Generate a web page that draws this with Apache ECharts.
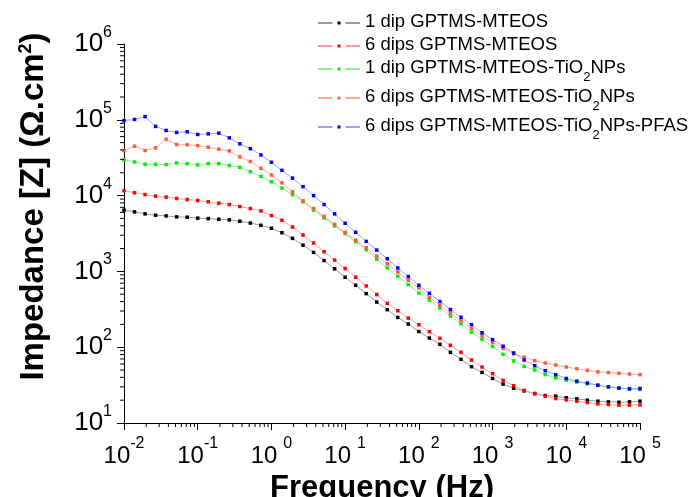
<!DOCTYPE html>
<html><head><meta charset="utf-8">
<script src="https://cdn.jsdelivr.net/npm/echarts@6/dist/echarts.min.js"></script>
<style>html,body{margin:0;padding:0;background:#fff}#c{width:695px;height:497px}</style>
</head><body><div id="c"></div>
<script>
// Frequency (Hz), 7 points per decade
const frequency = [
  0.01, 0.01389, 0.01931, 0.02683, 0.03728, 0.05179, 0.07197,
  0.1, 0.1389, 0.1931, 0.2683, 0.3728, 0.5179, 0.7197,
  1, 1.389, 1.931, 2.683, 3.728, 5.179, 7.197,
  10, 13.89, 19.31, 26.83, 37.28, 51.79, 71.97,
  100, 138.9, 193.1, 268.3, 372.8, 517.9, 719.7,
  1000, 1389, 1931, 2683, 3728, 5179, 7197,
  10000, 13890, 19310, 26830, 37280, 51790, 71970,
  100000
];
// |Z| (Ohm.cm2)
const z1dip = [
  6430, 6100, 5740, 5510, 5400, 5240, 5190, 5040, 4970, 4880,
  4780, 4590, 4340, 4060, 3710, 3240, 2730, 2220, 1780, 1390,
  1080, 838, 656, 509, 394, 313, 247, 202, 161, 132,
  109, 85.5, 69.2, 55.3, 46.5, 38.7, 32.6, 28.8, 26.5, 24.5,
  23.0, 22.6, 21.5, 20.8, 20.0, 19.4, 19.0, 18.8, 19.0, 19.4
];
const z6dips = [
  11600, 10900, 10300, 9840, 9550, 9160, 8870, 8610, 8280, 7940,
  7620, 7180, 6750, 6280, 5450, 4730, 3850, 3020, 2370, 1820,
  1410, 1090, 838, 643, 494, 378, 303, 242, 198, 160,
  131, 106, 85.5, 67.8, 54.7, 44.7, 36.5, 31.0, 26.9, 24.3,
  22.6, 21.0, 20.2, 19.4, 18.6, 17.9, 17.5, 17.2, 17.2, 17.3
];
const z1dipTiO2 = [
  29600, 27800, 25900, 25900, 25600, 27000, 26400, 25400, 26400, 26400,
  24900, 23600, 20700, 17900, 15200, 12600, 10300, 8280, 6460, 5070,
  3980, 3160, 2460, 1930, 1450, 1110, 863, 670, 519, 419,
  330, 258, 204, 158, 127, 102, 80.5, 65.8, 55.8, 50.1,
  43.5, 39.5, 36.8, 34.7, 32.9, 31.3, 30.0, 29.1, 28.2, 27.7
];
const z6dipsTiO2 = [
  39300, 44800, 39300, 42700, 55500, 47200, 46800, 45700, 43500, 40900,
  38900, 32400, 28200, 22900, 18700, 14700, 11200, 8530, 6760, 5310,
  4170, 3280, 2570, 2050, 1590, 1260, 984, 764, 604, 455,
  356, 282, 223, 177, 141, 115, 96.6, 81.3, 73.8, 66.4,
  61.9, 58.2, 54.7, 51.9, 49.5, 47.3, 46.3, 45.3, 44.3, 43.4
];
const z6dipsPFAS = [
  97300, 101000, 110000, 81800, 72300, 68100, 69500, 64000, 65300, 66700,
  57800, 48200, 41600, 34400, 27500, 21500, 17000, 13100, 10000, 7620,
  5740, 4320, 3280, 2490, 1910, 1470, 1110, 855, 656, 513,
  400, 314, 248, 198, 155, 126, 103, 83.9, 67.8, 56.9,
  49.0, 43.4, 38.7, 35.7, 33.7, 31.6, 30.0, 28.8, 28.2, 28.5
];
const seriesNames = [
  '1 dip GPTMS-MTEOS',
  '6 dips GPTMS-MTEOS',
  '1 dip GPTMS-MTEOS-TiO2NPs',
  '6 dips GPTMS-MTEOS-TiO2NPs',
  '6 dips GPTMS-MTEOS-TiO2NPs-PFAS'
];
const seriesValues = [z1dip, z6dips, z1dipTiO2, z6dipsTiO2, z6dipsPFAS];
const markerColors = ['#000000', '#ff0000', '#00ee00', '#ff5a3c', '#0000ff'];
const lineColors = ['#9a9a9a', '#ff9a9a', '#90f090', '#ffaa9c', '#a0a0ff'];
const xRange = [0.01, 100000];
const yRange = [10, 1000000];

const FONT = 'Liberation Sans, Arial, sans-serif';

// minor tick positions (decoration on the log axes)
const xMinor = [], yMinor = [];
for (let e = -2; e < 5; e++) for (let k = 2; k <= 9; k++) xMinor.push(k * Math.pow(10, e));
for (let e = 1; e < 6; e++) for (let k = 2; k <= 9; k++) yMinor.push(k * Math.pow(10, e));

const chart = echarts.init(document.getElementById('c'), null, {renderer: 'canvas'});

const lineSeries = seriesNames.map((name, s) => ({
  name: name,
  type: 'line',
  data: frequency.map((f, i) => [f, seriesValues[s][i]]),
  symbol: 'rect',
  symbolSize: 3.5,
  showSymbol: true,
  itemStyle: {color: markerColors[s]},
  lineStyle: {color: lineColors[s], width: 1},
  emphasis: {disabled: true},
  z: 3 + s
}));

const legendName = n => '{m|' + n.replace('TiO2', 'TiO}{s|2}{m|') + '}';

chart.setOption({
  animation: false,
  backgroundColor: '#fff',
  grid: {left: 124, right: 55, top: 44, bottom: 74, outerBoundsMode: 'none'},
  legend: {
    data: seriesNames,
    orient: 'vertical',
    left: 317, top: 12.5,
    padding: 0,
    itemGap: 4,
    itemWidth: 42,
    itemHeight: 10,
    itemStyle: {borderColor: '#ffffff', borderWidth: 5},
    selectedMode: false,
    formatter: legendName,
    textStyle: {
      color: '#000', fontFamily: FONT, fontSize: 18.5,
      rich: {
        m: {fontSize: 18.5, lineHeight: 21, verticalAlign: 'top', fontFamily: FONT, color: '#000'},
        s: {fontSize: 13, lineHeight: 13, padding: [12, 0, 0, 0], verticalAlign: 'top', fontFamily: FONT, color: '#000'}
      }
    }
  },
  xAxis: {
    type: 'log', logBase: 10,
    min: xRange[0], max: xRange[1], interval: 1, splitNumber: 7,
    name: 'Frequency (Hz)', nameLocation: 'middle', nameGap: 50, nameMoveOverlap: false,
    nameTextStyle: {fontSize: 31, fontWeight: 'bold', fontFamily: FONT, color: '#000'},
    axisLine: {show: true, onZero: false, lineStyle: {color: '#000', width: 1}},
    axisTick: {show: true, inside: false, length: 7, lineStyle: {color: '#000', width: 1}},
    splitLine: {show: false},
    minorTick: {show: false},
    axisLabel: {
      margin: 21, color: '#000', fontFamily: FONT,
      formatter: v => {
        const e = Math.round(Math.log10(v));
        return '{b|10}' + (e < 0 ? '{s|' + e + '}' : '{p|' + e + '}');
      },
      rich: {
        b: {fontSize: 24, lineHeight: 24, fontFamily: FONT, color: '#000'},
        s: {fontSize: 16, lineHeight: 16, padding: [0, 0, 25, 0], fontFamily: FONT, color: '#000'},
        p: {fontSize: 16, lineHeight: 16, padding: [0, 0, 25, 6], fontFamily: FONT, color: '#000'}
      }
    }
  },
  yAxis: {
    type: 'log', logBase: 10,
    min: yRange[0], max: yRange[1], interval: 1, splitNumber: 5,
    name: '{m|Impedance [Z] (\u03A9.cm}{s|2}{m|)}',
    nameLocation: 'middle', nameGap: 60, nameRotate: 90, nameMoveOverlap: false,
    nameTextStyle: {
      color: '#000', fontFamily: FONT, fontWeight: 'bold', fontSize: 33,
      padding: [0, 0, 0, 54],
      rich: {
        m: {fontSize: 33, lineHeight: 47, verticalAlign: 'top', fontWeight: 'bold', fontFamily: FONT, color: '#000'},
        s: {fontSize: 18, lineHeight: 18, verticalAlign: 'top', fontWeight: 'bold', fontFamily: FONT, color: '#000'}
      }
    },
    axisLine: {show: true, onZero: false, lineStyle: {color: '#000', width: 1}},
    axisTick: {show: true, inside: false, length: 7, lineStyle: {color: '#000', width: 1}},
    splitLine: {show: false},
    minorTick: {show: false},
    axisLabel: {
      margin: 12, color: '#000', fontFamily: FONT,
      formatter: v => '{b|10}{s|' + Math.round(Math.log10(v)) + '}',
      rich: {
        b: {fontSize: 26, lineHeight: 26, fontFamily: FONT, color: '#000'},
        s: {fontSize: 16, lineHeight: 16, padding: [0, 0, 23, 0], fontFamily: FONT, color: '#000'}
      }
    }
  },
  series: lineSeries
});

// minor ticks of the log axes, placed through the chart's own scales
const tickGraphics = [];
xMinor.forEach(v => {
  const p = chart.convertToPixel({gridIndex: 0}, [v, yRange[0]]);
  if (!p || isNaN(p[0]) || isNaN(p[1])) return;
  tickGraphics.push({type: 'line', z: 100,
    shape: {x1: p[0], y1: p[1], x2: p[0], y2: p[1] + 4}, style: {stroke: '#000', lineWidth: 1}});
});
yMinor.forEach(v => {
  const p = chart.convertToPixel({gridIndex: 0}, [xRange[0], v]);
  if (!p || isNaN(p[0]) || isNaN(p[1])) return;
  tickGraphics.push({type: 'line', z: 100,
    shape: {x1: p[0] - 4, y1: p[1], x2: p[0], y2: p[1]}, style: {stroke: '#000', lineWidth: 1}});
});
chart.setOption({graphic: tickGraphics});
</script>
</body></html>
